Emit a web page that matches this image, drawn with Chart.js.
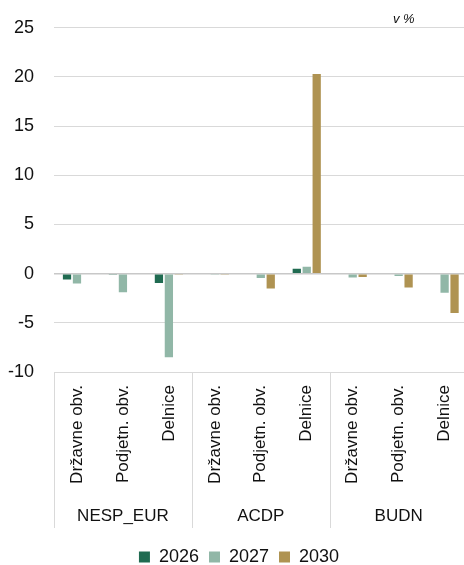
<!DOCTYPE html>
<html>
<head>
<meta charset="utf-8">
<script src="https://cdn.jsdelivr.net/npm/chart.js@4.4.1/dist/chart.umd.min.js"></script>
<style>
html,body{margin:0;padding:0;background:#fff;overflow:hidden}
#wrap{position:relative;width:464px;height:565px;overflow:hidden}
#c{display:block;margin-top:-3px}
#unit{position:absolute;left:393px;top:11px;font:italic 13px "Liberation Sans",Arial,sans-serif;color:#111}
</style>
</head>
<body>
<div id="wrap"><canvas id="c" width="478" height="579"></canvas><div id="unit">v %</div></div>
<script>
var groups=["NESP_EUR","ACDP","BUDN"];
var subLabels=["Državne obv.","Podjetn. obv.","Delnice"];
var years=["2026","2027","2030"];
var colors=["#206b51","#91b7a7","#af9352"];
// per sub-category, in group order NESP_EUR, ACDP, BUDN
var v2026=[-0.6,-0.1,-0.95, 0,0,0.5, 0,0,0];
var v2027=[-1.0,-1.9,-8.5, -0.05,-0.45,0.7, -0.4,-0.25,-1.95];
var v2030=[0,0,-0.05, -0.1,-1.5,20.3, -0.35,-1.4,-4.0];
var yTicks=[-10,-5,0,5,10,15,20,25];

var FONT="'Liberation Sans', Arial, sans-serif";
var catLabels=[];
groups.forEach(function(){subLabels.forEach(function(s){catLabels.push(s)})});

// vertical separators between the groups, under the plot
var groupLines={id:"groupLines",afterDraw:function(ch){
  var x=ch.scales.x,x2=ch.scales.x2,c=ch.ctx;
  var w=(x.right-x.left)/catLabels.length;
  c.save();
  c.strokeStyle="#d9d9d9";c.lineWidth=1;
  for(var i=0;i<=groups.length;i++){
    var px=Math.round(x.left+i*subLabels.length*w)+0.5;
    c.beginPath();c.moveTo(px,ch.chartArea.bottom);c.lineTo(px,x2.bottom-10);c.stroke();
  }
  c.restore();
}};

var series=[v2026,v2027,v2030];
new Chart(document.getElementById("c"),{
  type:"bar",
  data:{labels:catLabels,datasets:years.map(function(y,i){
    return {label:y,data:series[i],backgroundColor:colors[i],borderWidth:0,
      categoryPercentage:0.65,barPercentage:0.83};
  })},
  options:{
    responsive:false,animation:false,
    layout:{padding:{left:0,top:10,right:0,bottom:0}},
    plugins:{
      legend:{position:"bottom",labels:{boxWidth:11,boxHeight:11,padding:10,color:"#111",font:{family:FONT,size:18}}},
      tooltip:{enabled:false}
    },
    scales:{
      x:{grid:{display:false,drawTicks:false},border:{display:false},
        afterFit:function(s){s.height=120},
        ticks:{autoSkip:false,maxRotation:90,minRotation:90,padding:13,color:"#111",font:{family:FONT,size:17}}},
      x2:{type:"category",labels:groups,position:"bottom",offset:true,
        grid:{display:false,drawTicks:false},border:{display:false},
        afterFit:function(s){s.height=46},
        ticks:{padding:14,color:"#111",font:{family:FONT,size:17}}},
      y:{min:-10,max:25,
        afterBuildTicks:function(s){s.ticks=yTicks.map(function(v){return {value:v}})},
        afterFit:function(s){s.width=54},
        grid:{drawTicks:false,color:function(ctx){return ctx.tick&&ctx.tick.value===0?"#c8c8c8":"#d9d9d9"},
          lineWidth:function(ctx){return ctx.tick&&ctx.tick.value===0?1.5:1}},
        border:{display:false},
        ticks:{padding:20,color:"#111",font:{family:FONT,size:18}}}
    }
  },
  plugins:[groupLines]
});
</script>
</body>
</html>
